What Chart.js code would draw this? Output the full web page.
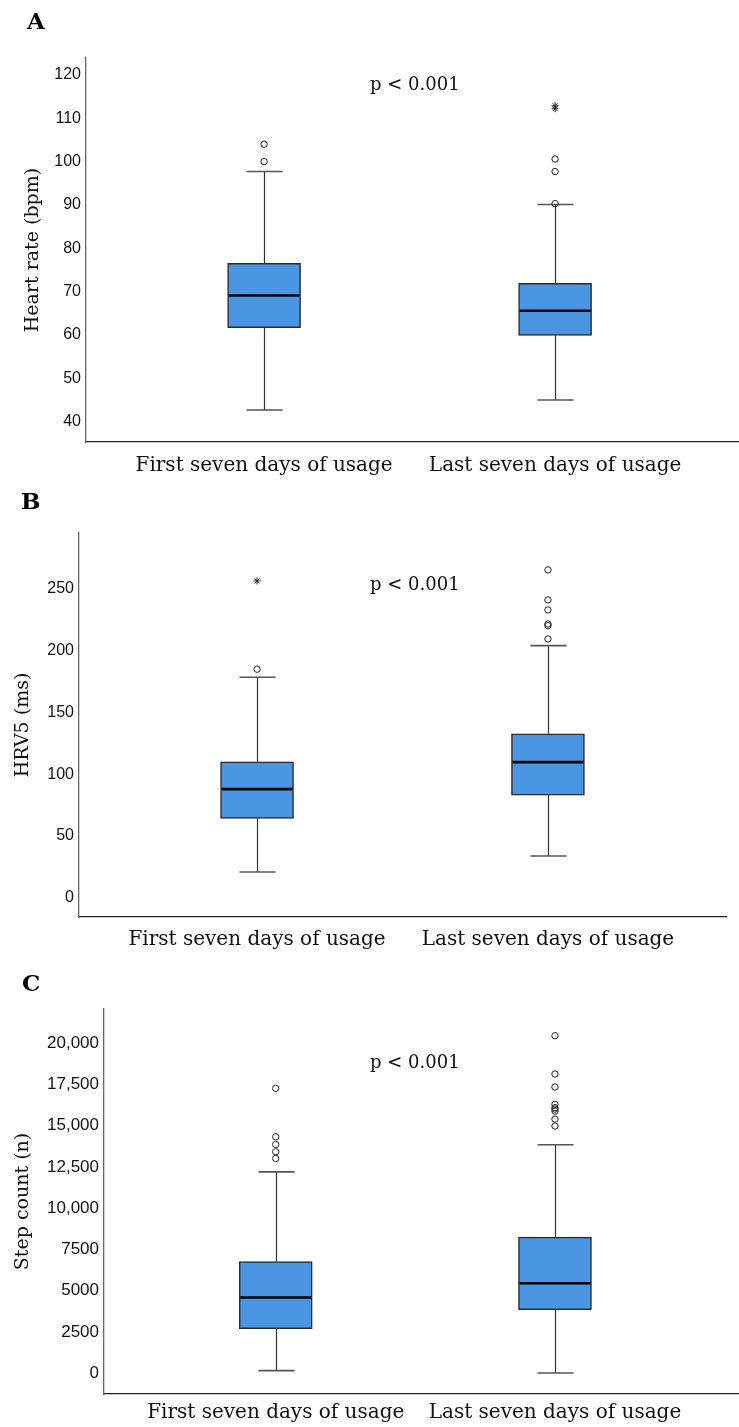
<!DOCTYPE html>
<html>
<head>
<meta charset="utf-8">
<script src="https://cdn.jsdelivr.net/npm/chart.js@4.4.1/dist/chart.umd.min.js"></script>
<style>
  html, body { margin: 0; padding: 0; background: #fff; }
  body { width: 739px; height: 1427px; position: relative; overflow: hidden; }
  .panel { position: absolute; left: 0; width: 739px; }
  .panel canvas { display: block; }
  .letter { position: absolute; font: bold 23px "DejaVu Serif", serif; line-height: 23px; color: #000; }
  .pval { position: absolute; left: 370px; font: 18px "DejaVu Serif", serif; line-height: 18px; color: #111; white-space: nowrap; }
</style>
</head>
<body>
<div class="panel" style="top:0px"><canvas id="chartA" width="739" height="480"></canvas></div>
<div class="panel" style="top:480px"><canvas id="chartB" width="739" height="480"></canvas></div>
<div class="panel" style="top:960px"><canvas id="chartC" width="739" height="467"></canvas></div>

<div class="letter" style="left:27px;top:9px">A</div>
<div class="letter" style="left:21px;top:489px">B</div>
<div class="letter" style="left:22px;top:971px">C</div>
<div class="pval" style="top:75px">p &lt; 0.001</div>
<div class="pval" style="top:575px">p &lt; 0.001</div>
<div class="pval" style="top:1053px">p &lt; 0.001</div>

<script>
const groups = ['First seven days of usage', 'Last seven days of usage'];

// A - heart rate
const hrMin = [42.7, 45.0];
const hrQ1 = [61.7, 59.9];
const hrMedian = [69.1, 65.6];
const hrQ3 = [76.5, 71.9];
const hrMax = [97.7, 90.1];
const hrOutliers = [[100.0, 104.0], [90.3, 97.7, 100.6]];
const hrExtremes = [[], [112.2, 112.9]];
const hrTicks = [40, 50, 60, 70, 80, 90, 100, 110, 120];
const hrTickLabels = ['40', '50', '60', '70', '80', '90', '100', '110', '120'];

// B - HRV5
const hrvMin = [21.0, 33.9];
const hrvQ1 = [64.2, 83.1];
const hrvMedian = [87.9, 109.7];
const hrvQ3 = [109.9, 132.5];
const hrvMax = [178.2, 203.7];
const hrvOutliers = [[184.7], [209.1, 219.8, 221.2, 232.5, 240.6, 264.8]];
const hrvExtremes = [[255.9], []];
const hrvTicks = [0, 50, 100, 150, 200, 250];
const hrvTickLabels = ['0', '50', '100', '150', '200', '250'];

// C - step count
const stepMin = [160, 20];
const stepQ1 = [2710, 3860];
const stepMedian = [4590, 5460];
const stepQ3 = [6775, 8250];
const stepMax = [12210, 13850];
const stepOutliers = [[13020, 13425, 13870, 14335, 17270], [14985, 15410, 15890, 16015, 16100, 16300, 17350, 18140, 20460]];
const stepExtremes = [[], []];
const stepTicks = [0, 2500, 5000, 7500, 10000, 12500, 15000, 17500, 20000];
const stepTickLabels = ['0', '2500', '5000', '7500', '10,000', '12,500', '15,000', '17,500', '20,000'];

const SERIF = '"DejaVu Serif", serif';
const SANS = '"Liberation Sans", Arial, sans-serif';

function toPoints(lists) {
  const pts = [];
  lists.forEach((vals, i) => vals.forEach(v => pts.push({ x: i, y: v })));
  return pts;
}

function boxPlot(id, s, opt) {
  // whiskers, caps and medians drawn through the chart scales
  const whiskers = {
    id: 'whiskers',
    beforeDatasetsDraw(chart) {
      const { ctx, scales: { x, y } } = chart;
      ctx.save();
      groups.forEach((g, i) => {
        const cx = Math.round(x.getPixelForValue(i)) + 0.5;
        ctx.strokeStyle = '#333';
        ctx.lineWidth = 1.2;
        ctx.beginPath();
        ctx.moveTo(cx, y.getPixelForValue(s.max[i]));
        ctx.lineTo(cx, y.getPixelForValue(s.q3[i]));
        ctx.moveTo(cx, y.getPixelForValue(s.q1[i]));
        ctx.lineTo(cx, y.getPixelForValue(s.min[i]));
        ctx.stroke();
        ctx.strokeStyle = '#555';
        ctx.lineWidth = 1.6;
        ctx.beginPath();
        [s.max[i], s.min[i]].forEach(v => {
          const py = y.getPixelForValue(v);
          ctx.moveTo(cx - 18, py);
          ctx.lineTo(cx + 18, py);
        });
        ctx.stroke();
      });
      ctx.restore();
    },
    afterDatasetsDraw(chart) {
      const { ctx, scales: { x, y } } = chart;
      const bars = chart.getDatasetMeta(chart.data.datasets.length - 1).data;
      ctx.save();
      ctx.strokeStyle = '#000';
      ctx.lineWidth = 2.6;
      groups.forEach((g, i) => {
        const cx = x.getPixelForValue(i);
        const half = bars[i].width / 2;
        const py = y.getPixelForValue(s.median[i]);
        ctx.beginPath();
        ctx.moveTo(cx - half + 1, py);
        ctx.lineTo(cx + half - 1, py);
        ctx.stroke();
      });
      ctx.restore();
    }
  };

  return new Chart(document.getElementById(id), {
    type: 'bar',
    data: {
      datasets: [
        {
          type: 'scatter',
          data: toPoints(s.extremes),
          pointStyle: 'star',
          pointRadius: 3.5,
          borderWidth: 1,
          borderColor: '#222',
          backgroundColor: '#222',
          order: 1
        },
        {
          type: 'scatter',
          data: toPoints(s.outliers),
          pointStyle: 'circle',
          pointRadius: 3.2,
          borderWidth: 1,
          borderColor: '#222',
          backgroundColor: 'rgba(255,255,255,0)',
          order: 2
        },
        {
          type: 'bar',
          data: groups.map((g, i) => ({ x: i, y: [s.q1[i], s.q3[i]] })),
          backgroundColor: '#4a96e2',
          borderColor: '#2b2b2b',
          borderWidth: 1.5,
          borderSkipped: false,
          barThickness: 73,
          order: 3
        }
      ]
    },
    options: {
      responsive: false,
      animation: false,
      devicePixelRatio: 1,
      layout: { autoPadding: false, padding: { left: opt.padLeft, top: opt.padTop, right: opt.padRight, bottom: 0 } },
      plugins: { legend: { display: false }, tooltip: { enabled: false } },
      scales: {
        x: {
          type: 'linear',
          min: opt.xMin,
          max: opt.xMax,
          bounds: 'data',
          offset: false,
          grid: { display: false, drawTicks: false, offset: false },
          border: { display: true, color: '#222', width: 1.3 },
          afterBuildTicks: sc => { sc.ticks = groups.map((g, i) => ({ value: i })); },
          afterFit: sc => { sc.height = opt.xAxisHeight; },
          ticks: {
            autoSkip: false,
            maxRotation: 0,
            padding: opt.xPad,
            color: '#111',
            font: { family: SERIF, size: 20 },
            callback: v => groups[v]
          }
        },
        y: {
          type: 'linear',
          min: opt.yMin,
          max: opt.yMax,
          bounds: 'data',
          beginAtZero: false,
          grid: { display: false, drawTicks: false },
          border: { display: true, color: '#666', width: 1.3 },
          afterBuildTicks: sc => { sc.ticks = s.ticks.map(v => ({ value: v })); },
          afterFit: sc => { sc.width = opt.yAxisWidth; },
          ticks: {
            padding: 5,
            color: '#111',
            font: { family: SANS, size: opt.tickSize },
            callback: (v, i) => s.tickLabels[i]
          },
          title: {
            display: true,
            text: s.title,
            color: '#111',
            font: { family: SERIF, size: 19 },
            padding: { top: 0, bottom: 0 }
          }
        }
      }
    },
    plugins: [whiskers]
  });
}

boxPlot('chartA', {
  min: hrMin, q1: hrQ1, median: hrMedian, q3: hrQ3, max: hrMax,
  outliers: hrOutliers, extremes: hrExtremes,
  ticks: hrTicks, tickLabels: hrTickLabels, title: 'Heart rate (bpm)'
}, {
  padLeft: 22, padTop: 58, padRight: 0, yAxisWidth: 64, xAxisHeight: 38, xPad: 12,
  xMin: -0.612, xMax: 1.632, yMin: 35.3, yMax: 123.9, tickSize: 16
});

boxPlot('chartB', {
  min: hrvMin, q1: hrvQ1, median: hrvMedian, q3: hrvQ3, max: hrvMax,
  outliers: hrvOutliers, extremes: hrvExtremes,
  ticks: hrvTicks, tickLabels: hrvTickLabels, title: 'HRV5 (ms)'
}, {
  padLeft: 12, padTop: 53, padRight: 13, yAxisWidth: 67, xAxisHeight: 43, xPad: 11,
  xMin: -0.612, xMax: 1.612, yMin: -15.3, yMax: 294.6, tickSize: 16
});

boxPlot('chartC', {
  min: stepMin, q1: stepQ1, median: stepMedian, q3: stepQ3, max: stepMax,
  outliers: stepOutliers, extremes: stepExtremes,
  ticks: stepTicks, tickLabels: stepTickLabels, title: 'Step count (n)'
}, {
  padLeft: 12, padTop: 49, padRight: 0, yAxisWidth: 92, xAxisHeight: 33, xPad: 7,
  xMin: -0.615, xMax: 1.659, yMin: -1255, yMax: 22080, tickSize: 17
});
</script>
</body>
</html>
